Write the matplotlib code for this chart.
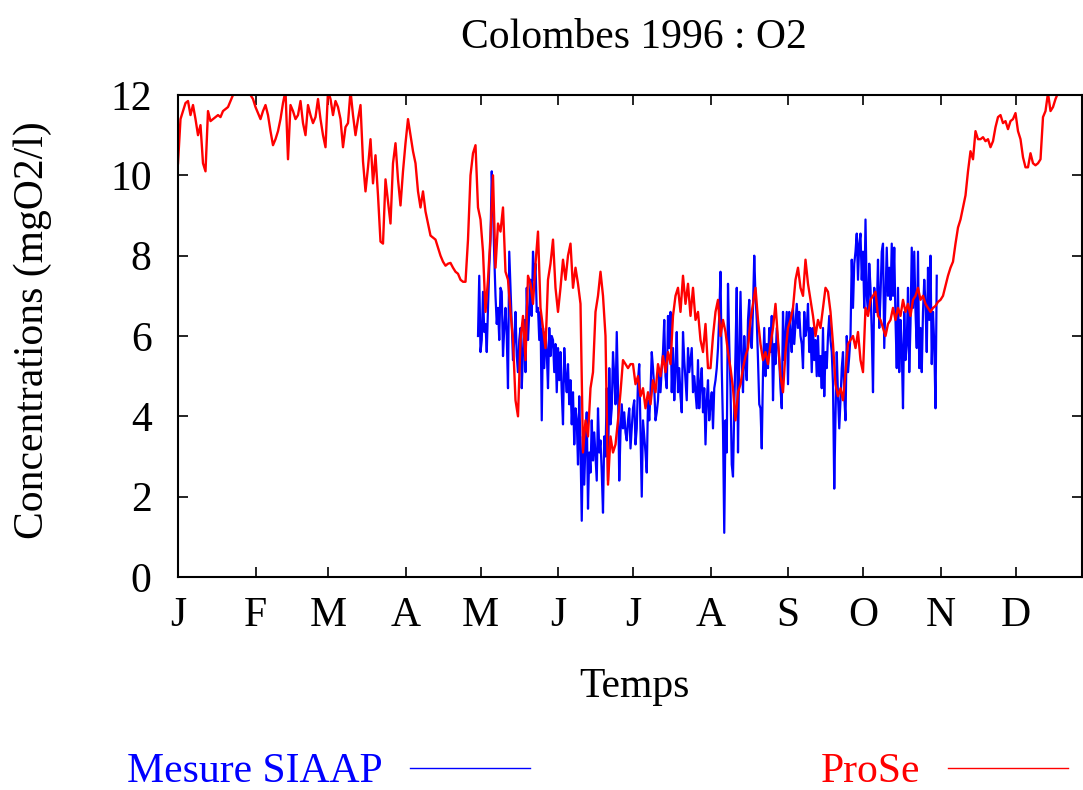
import numpy as np
import matplotlib
matplotlib.use("Agg")
import matplotlib.pyplot as plt
from matplotlib.lines import Line2D

plt.rcParams["font.family"] = ["Liberation Serif", "DejaVu Serif"]

# month starts (day of year 1996, leap year) and labels
month_starts = [0, 31, 60, 91, 121, 152, 182, 213, 244, 274, 305, 335]
month_labels = ["J", "F", "M", "A", "M", "J", "J", "A", "S", "O", "N", "D"]

# ProSe (model), one value per day from 1 Jan
prose_start = 0.0
prose_step = 1.0
prose = [
    # Jan
    10.3, 11.4, 11.6, 11.8, 11.85, 11.5, 11.75, 11.4, 11.0, 11.25,
    10.3, 10.1, 11.6, 11.35, 11.4, 11.45, 11.5, 11.45, 11.6, 11.65,
    11.7, 11.85, 12.0, 12.1, 12.2, 12.3, 12.2, 12.1, 12.2, 12.0, 11.9,
    # Feb
    11.7, 11.55, 11.4, 11.6, 11.75, 11.5, 11.1, 10.75, 10.9, 11.1,
    11.4, 11.8, 12.1, 10.4, 11.75, 11.6, 11.4, 11.5, 11.85, 11.3,
    11.0, 11.75, 11.5, 11.3, 11.45, 11.9, 11.4, 11.0, 10.7,
    # Mar
    12.1, 11.9, 11.5, 11.85, 11.7, 11.4, 10.7, 11.2, 11.3, 12.1,
    11.5, 11.0, 11.4, 11.75, 10.35, 9.6, 10.2, 10.9, 9.8, 10.5,
    9.5, 8.35, 8.3, 9.9, 9.35, 8.8, 10.3, 10.8, 9.9, 9.25, 10.1,
    # Apr
    10.8, 11.4, 11.0, 10.6, 10.3, 9.6, 9.2, 9.6, 9.1, 8.8,
    8.5, 8.45, 8.4, 8.2, 8.0, 7.85, 7.75, 7.8, 7.82, 7.7,
    7.6, 7.55, 7.4, 7.35, 7.35, 8.4, 10.0, 10.55, 10.75, 9.2,
    # May
    8.9, 8.1, 6.6, 7.4, 8.5, 10.0, 7.7, 8.8, 8.6, 9.2,
    7.6, 7.4, 6.6, 5.9, 4.4, 4.0, 5.9, 6.5, 5.4, 7.5,
    7.3, 6.8, 7.8, 8.6, 6.7, 6.2, 5.7, 7.4, 7.8, 8.4, 7.2,
    # Jun
    6.6, 7.2, 7.9, 7.4, 8.0, 8.3, 7.2, 7.7, 7.3, 6.8,
    3.1, 3.9, 3.5, 4.7, 5.1, 6.6, 7.0, 7.6, 7.0, 6.0,
    2.3, 3.5, 3.1, 3.3, 3.9, 4.6, 5.4, 5.3, 5.2, 5.3,
    # Jul
    5.3, 4.8, 5.0, 4.5, 4.7, 4.2, 4.6, 4.3, 4.9, 4.6,
    5.3, 5.0, 5.5, 5.1, 5.6, 5.3, 6.5, 7.0, 7.2, 6.6,
    7.5, 6.8, 7.3, 6.5, 7.2, 6.4, 6.6, 5.9, 5.6, 6.3, 5.2,
    # Aug
    5.2, 6.0, 6.6, 6.9, 6.0, 6.4, 6.1, 5.6, 5.2, 4.7,
    3.9, 4.6, 4.8, 5.2, 5.5, 5.7, 6.4, 6.8, 7.2, 6.4,
    5.8, 5.4, 5.6, 5.3, 5.8, 6.2, 6.8, 5.9, 5.0, 4.6, 5.6,
    # Sep
    6.2, 6.4, 6.7, 7.4, 7.7, 7.2, 7.0, 7.9, 7.3, 6.9,
    6.5, 6.0, 6.4, 6.2, 6.7, 7.2, 7.1, 6.6, 5.8, 4.8,
    4.5, 4.7, 4.4, 5.1, 5.8, 5.9, 6.0, 5.7, 6.1, 5.4,
    # Oct
    5.1, 6.7, 6.5, 6.9, 7.0, 7.1, 6.5, 6.4, 6.2, 6.0,
    6.3, 6.4, 6.7, 6.4, 6.7, 6.5, 6.9, 6.6, 6.8, 6.5,
    6.9, 7.0, 7.2, 6.9, 7.0, 6.8, 6.7, 6.6, 6.7, 6.75, 6.85,
    # Nov
    6.9, 7.0, 7.25, 7.5, 7.7, 7.85, 8.3, 8.7, 8.9, 9.2,
    9.5, 10.1, 10.6, 10.4, 11.1, 10.9, 10.9, 10.95, 10.85, 10.9,
    10.7, 10.85, 11.2, 11.45, 11.5, 11.3, 11.35, 11.15, 11.35, 11.4,
    # Dec
    11.55, 11.1, 10.9, 10.45, 10.2, 10.2, 10.55, 10.3, 10.25, 10.3,
    10.4, 11.45, 11.6, 12.05, 11.6, 11.7, 11.9, 12.05, 12.2, 12.3,
    12.4, 12.4, 12.5, 12.5, 12.5, 12.6, 12.6,
]

# Mesure SIAAP, two values per day from 30 Apr (day 120)
siaap_start = 120.0
siaap_step = 0.5
siaap = [
    6.0, 7.5, 5.6, 5.9, 7.1, 6.1, 6.3, 5.6, 6.7, 7.7,
    8.4, 10.1, 9.2, 8.0, 7.0, 6.3, 6.7, 5.9, 7.2, 7.1,
    5.5, 6.2, 6.7, 6.0, 4.7, 8.1, 7.2, 6.3, 5.4, 5.9,
    6.6, 5.5, 5.1, 5.9, 6.2, 4.7, 5.6, 6.4, 5.1, 7.2,
    5.9, 6.6, 7.4, 6.5, 8.1, 7.4, 7.8, 6.6, 6.7, 5.9,
    6.6, 3.9, 6.2, 5.2, 6.1, 5.6, 4.7, 6.2, 5.5, 6.0,
    5.9, 5.1, 5.8, 4.6, 5.7, 4.9, 5.6, 4.6, 3.8, 5.7,
    5.0, 4.6, 5.3, 4.3, 4.9, 3.8, 4.6, 3.3, 4.2, 3.9,
    2.8, 4.5, 3.2, 1.4, 3.5, 2.3, 3.4, 4.1, 1.7, 3.1,
    2.6, 3.9, 2.9, 3.6, 3.0, 2.4, 4.2, 3.1, 3.4, 2.6,
    1.6, 3.5, 3.0, 4.7, 2.4, 5.2, 3.8, 4.2, 5.6, 5.0,
    4.3, 6.1, 4.7, 2.4, 3.6, 4.3, 3.7, 4.1, 3.6, 3.4,
    3.9, 4.2, 3.2, 3.7, 4.2, 4.4, 3.3, 3.7, 4.9, 5.3,
    3.6, 2.0, 3.9, 3.5, 3.1, 2.6, 4.4, 3.9, 4.6, 5.6,
    5.2, 4.7, 3.9, 4.1, 4.4, 5.1, 4.6, 5.2, 5.6, 6.4,
    5.0, 4.7, 6.5, 5.7, 6.6, 4.6, 5.7, 4.4, 5.2, 6.1,
    4.6, 5.2, 4.5, 4.1, 6.1, 5.4, 4.9, 4.4, 5.7, 5.1,
    5.4, 5.7, 4.6, 5.0, 4.6, 4.2, 5.4, 4.2, 4.8, 5.2,
    4.1, 4.7, 3.3, 4.4, 4.9, 3.9, 4.3, 4.6, 3.7, 4.7,
    4.9, 5.2, 5.7, 6.5, 7.6, 5.2, 3.7, 1.1, 3.9, 3.1,
    7.3, 5.8, 4.7, 2.8, 2.5, 4.2, 5.6, 7.2, 3.1, 5.5,
    7.1, 5.4, 4.6, 6.0, 5.3, 4.9, 6.4, 6.9, 5.9, 5.7,
    6.7, 8.0, 7.0, 6.4, 5.4, 4.3, 4.2, 3.2, 5.1, 6.2,
    5.0, 5.8, 5.2, 6.2, 5.6, 6.5, 4.4, 5.8, 5.3, 6.2,
    5.8, 5.4, 4.7, 4.2, 6.6, 5.4, 6.0, 6.6, 4.8, 6.6,
    6.0, 5.6, 6.7, 5.8, 6.3, 6.8, 6.2, 6.6, 6.0, 5.8,
    5.2, 6.6, 6.0, 6.2, 6.8, 5.6, 6.2, 5.1, 6.2, 5.4,
    5.9, 5.0, 6.0, 5.0, 5.5, 4.7, 6.2, 4.5, 5.6, 5.2,
    6.0, 6.5, 5.9, 5.6, 4.8, 2.2, 4.0, 5.6, 4.5, 3.7,
    4.4, 5.2, 5.6, 4.5, 3.9, 6.0, 5.1, 5.5, 6.0, 7.9,
    6.7, 7.8, 8.1, 8.55, 7.4, 8.3, 8.55, 7.4, 8.1, 6.7,
    8.9, 7.0, 6.6, 7.8, 7.2, 6.1, 4.6, 7.2, 6.6, 6.6,
    7.9, 6.2, 7.0, 8.1, 8.3, 5.7, 7.0, 8.2, 7.0, 7.7,
    6.9, 8.3, 7.0, 8.2, 6.4, 5.2, 7.2, 5.1, 6.4, 5.7,
    4.2, 6.6, 5.4, 5.8, 7.2, 5.1, 6.3, 8.2, 6.7, 8.1,
    6.6, 5.7, 8.1, 5.2, 6.2, 5.1, 6.6, 7.4, 6.8, 5.6,
    7.7, 6.4, 8.0, 5.3, 6.6, 5.8, 4.2, 7.5,
]

t_prose = prose_start + prose_step * np.arange(len(prose))
t_siaap = siaap_start + siaap_step * np.arange(len(siaap))

W, H = 1083, 790
fig = plt.figure(figsize=(W / 100, H / 100), dpi=100)
ax = fig.add_axes([178 / W, 1 - 577 / H, (1082 - 178) / W, (577 - 95) / H])

ax.plot(t_siaap, siaap, color="#0000ff", lw=1.6)
ax.plot(t_prose, prose, color="#ff0000", lw=1.7)

ax.set_xlim(0, 361.6)
ax.set_ylim(0, 12)
ax.set_xticks(month_starts)
ax.set_xticklabels(month_labels)
ax.set_yticks(range(0, 13, 2))
ax.tick_params(direction="in", length=7, width=1.2, top=True, right=True,
               labelsize=30)
ax.tick_params(axis="x", pad=14)
ax.tick_params(axis="y", pad=19)
for s in ax.spines.values():
    s.set_linewidth(1.5)

# titles
fig.text(634 / W, 1 - 48 / H, "Colombes 1996 : O2", ha="center", va="baseline",
         fontsize=30)
fig.text(634 / W, 1 - 697 / H, "Temps", ha="center", va="baseline", fontsize=30)
fig.text(33 / W, 1 - 330 / H, "Concentrations (mgO2/l)", rotation=90,
         ha="center", va="center", fontsize=30)

# key below the plot
key_y = 1 - 768 / H
fig.text(383 / W, 1 - 782 / H, "Mesure SIAAP", ha="right", va="baseline",
         fontsize=30, color="#0000ff")
fig.add_artist(Line2D([410 / W, 530 / W], [key_y, key_y], color="#0000ff", lw=1.0))
fig.text(920 / W, 1 - 782 / H, "ProSe", ha="right", va="baseline",
         fontsize=30, color="#ff0000")
fig.add_artist(Line2D([948 / W, 1068 / W], [key_y, key_y], color="#ff0000", lw=1.0))

fig.savefig("out.png", dpi=100)
